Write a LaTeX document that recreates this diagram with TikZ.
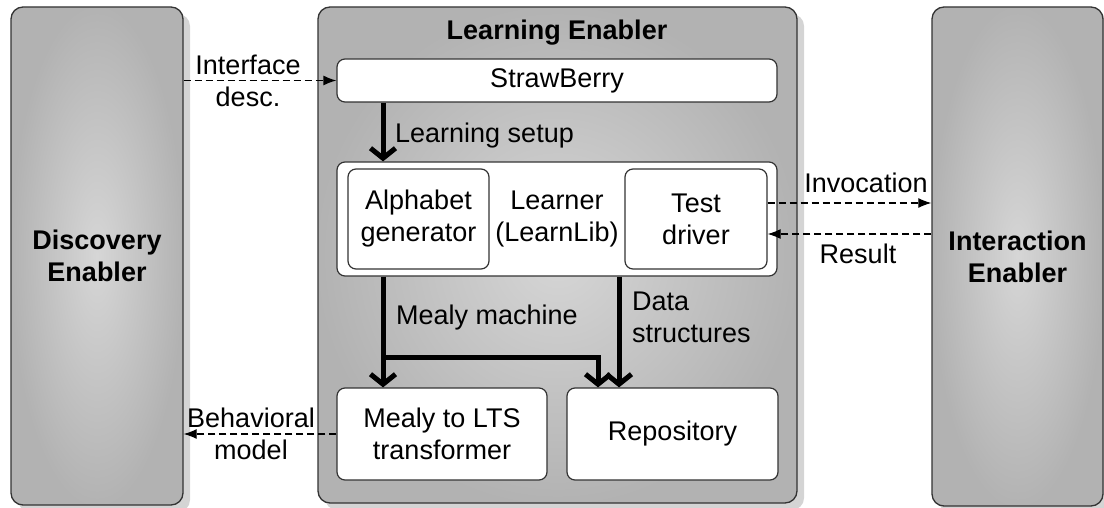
\documentclass[tikz,border=0pt]{standalone}
\usepackage{fontspec}
\setmainfont{Liberation Sans}
\usetikzlibrary{arrows.meta,shadows}

\begin{document}
\begin{tikzpicture}[x=1pt,y=-1pt,
  txt/.style={font=\fontsize{27}{32}\selectfont, align=center},
  bold/.style={font=\fontsize{27}{32}\selectfont\bfseries, align=center},
  bigbox/.style={draw=black!80, line width=1.3pt, rounded corners=12pt,
    inner color=black!16, outer color=black!30, inner sep=0pt,
    drop shadow={shadow xshift=7pt, shadow yshift=-7pt, fill=black!17, opacity=1}},
  whitebox/.style={txt, draw=black!80, line width=1.2pt, rounded corners=8pt,
    fill=white, inner sep=0pt},
  flow/.style={line width=5pt, line join=miter,
    -{Straight Barb[length=10pt,width=25pt]}},
  msg/.style={line width=1.2pt, dash pattern=on 7pt off 4pt,
    -{Latex[length=13pt,width=10pt]}},
  lbl/.style={txt, inner sep=0pt}]

\useasboundingbox (0,0) rectangle (1104,508);

% outer components
\node[bigbox, bold, minimum width=172pt, minimum height=498pt] (disc) at (97,256)
  {Discovery\\Enabler};
\node[bigbox, minimum width=479pt, minimum height=496pt] (learn) at (557.5,255) {};
\node[bigbox, bold, minimum width=171pt, minimum height=499pt] (inter) at (1017.5,256.5)
  {Interaction\\Enabler};
\node[bold, anchor=base, inner sep=0pt] (title) at (557,40) {Learning Enabler};

% parts of the learning enabler
\node[whitebox, minimum width=440pt, minimum height=43pt] (straw) at (557,80.5) {StrawBerry};
\node[whitebox, minimum width=440pt, minimum height=114pt] (learner) at (557,219)
  {Learner\\(LearnLib)};
\node[whitebox, minimum width=141pt, minimum height=100pt] (alpha) at (418.5,219)
  {Alphabet\\generator};
\node[whitebox, minimum width=142pt, minimum height=100pt] (test) at (696,219)
  {Test\\driver};
\node[whitebox, minimum width=210pt, minimum height=92pt] (mealy) at (442,434)
  {Mealy to LTS\\transformer};
\node[whitebox, minimum width=211pt, minimum height=92pt] (repo) at (672.5,434)
  {Repository};

% reference points for the connectors
\coordinate (xl) at (383,0);
\coordinate (xr) at (598,0);
\coordinate (xd) at (619,0);
\coordinate (jn) at (383,357);
\coordinate (inv) at (0,203);
\coordinate (res) at (0,234);

% internal data flow
\draw[flow] (straw.south -| xl) -- (learner.north -| xl);
\draw[flow] (learner.south -| xl) -- (mealy.north -| xl);
\draw[flow] (jn) -| (repo.north -| xr);
\draw[flow] (learner.south -| xd) -- (repo.north -| xd);

% messages between enablers
\draw[msg] (disc.east |- straw.west) -- (straw.west);
\draw[msg] (test.east |- inv) -- (inter.west |- inv);
\draw[msg] (inter.west |- res) -- (test.east |- res);
\draw[msg] (mealy.west) -- (disc.east |- mealy.west);

% connector labels
\node[lbl] (ifl) at (248,81) {Interface\\desc.};
\node[lbl] (bml) at (251,434) {Behavioral\\model};
\node[lbl, anchor=base] (invl) at (866,193) {Invocation};
\node[lbl, anchor=base] (resl) at (858,263) {Result};
\node[lbl, anchor=base west] (lsl) at (395,143) {Learning setup};
\node[lbl, anchor=base west] (mml) at (396,324) {Mealy machine};
\node[lbl, anchor=west, align=left] (dsl) at (632,317) {Data\\structures};
\end{tikzpicture}
\end{document}
